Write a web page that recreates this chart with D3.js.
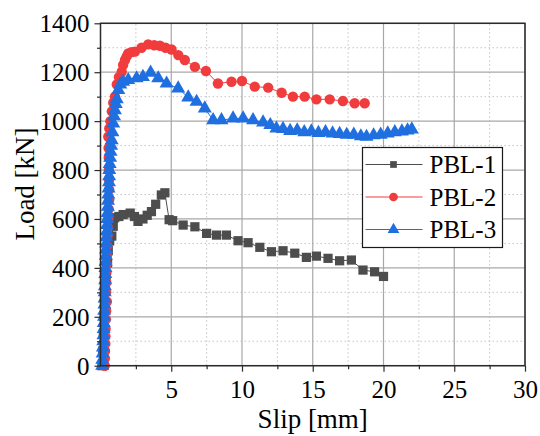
<!DOCTYPE html>
<html>
<head>
<meta charset="utf-8">
<script src="https://cdn.jsdelivr.net/npm/d3@7"></script>
<style>
  body { margin: 0; background: #fff; }
  svg { display: block; }
  svg text { font-family: "Liberation Serif", "Times New Roman", serif; }
</style>
</head>
<body>
<svg id="chart" width="540" height="436"></svg>
<script>
// Slip [mm], Load [kN]
const pbl1 = [[0.1,0],[0.15,60],[0.2,130],[0.25,200],[0.3,260],[0.35,320],[0.4,370],[0.5,420],[0.55,470],[0.65,510],[0.8,530],[0.9,570],[1.0,605],[1.3,610],[1.6,618],[2.1,624],[2.4,610],[2.65,590],[3.0,600],[3.3,615],[3.6,630],[3.9,660],[4.3,698],[4.55,707],[4.85,597],[5.1,593],[5.84,575],[6.67,568],[7.5,541],[8.2,534],[8.9,534],[9.72,511],[10.43,503],[11.26,484],[12.08,466],[12.9,470],[13.73,460],[14.55,443],[15.26,448],[16.08,439],[16.9,429],[17.73,432],[18.55,391],[19.37,384],[20.0,365]]
const pbl2 = [[0.3,0],[0.31,30],[0.32,60],[0.34,90],[0.35,120],[0.36,150],[0.38,190],[0.4,225],[0.45,262],[0.4,300],[0.41,340],[0.42,380],[0.44,415],[0.45,450],[0.48,490],[0.5,530],[0.52,565],[0.55,600],[0.58,640],[0.62,680],[0.61,720],[0.6,760],[0.59,800],[0.58,850],[0.57,890],[0.55,936],[0.62,970],[0.7,1000],[0.8,1040],[0.9,1075],[1.02,1100],[1.15,1150],[1.3,1180],[1.5,1202],[1.6,1230],[1.73,1250],[1.85,1265],[1.96,1277],[2.2,1282],[2.43,1284],[2.9,1300],[3.37,1314],[3.8,1310],[4.2,1308],[4.6,1300],[5.02,1293],[5.5,1270],[5.96,1250],[6.67,1222],[7.45,1205],[8.3,1154],[9.26,1161],[10.0,1164],[10.9,1141],[11.85,1137],[12.8,1116],[13.6,1100],[14.43,1100],[15.26,1089],[16.2,1089],[17.13,1082],[17.96,1073],[18.67,1073]]
const pbl3 = [[0.12,0],[0.13,25],[0.15,50],[0.17,75],[0.2,100],[0.21,125],[0.22,150],[0.23,175],[0.25,200],[0.26,225],[0.28,250],[0.29,275],[0.3,300],[0.31,325],[0.33,350],[0.34,375],[0.35,400],[0.36,425],[0.38,450],[0.39,475],[0.4,500],[0.42,525],[0.45,550],[0.46,575],[0.48,600],[0.5,625],[0.52,650],[0.53,675],[0.55,700],[0.57,725],[0.6,750],[0.61,775],[0.62,800],[0.65,825],[0.68,850],[0.71,875],[0.75,900],[0.79,922],[0.84,955],[0.9,990],[0.96,1020],[1.02,1045],[1.08,1070],[1.15,1090],[1.26,1127],[1.4,1150],[1.6,1161],[1.96,1168],[2.55,1175],[3.0,1181],[3.54,1198],[4.08,1175],[4.67,1154],[5.49,1134],[6.2,1097],[6.79,1079],[7.37,1052],[7.96,1004],[8.55,1004],[9.37,1011],[10.08,1011],[10.78,1004],[11.49,995],[12.0,984],[12.43,970],[12.9,968],[13.4,960],[13.9,962],[14.4,955],[14.9,958],[15.4,952],[15.9,955],[16.4,950],[16.9,948],[17.4,944],[17.9,945],[18.4,938],[18.8,936],[19.3,942],[19.8,945],[20.3,950],[20.8,955],[21.3,958],[21.7,962],[22.0,966]]

const seriesNames = ['PBL-1', 'PBL-2', 'PBL-3']
const xTicks = [5, 10, 15, 20, 25, 30]
const yTicks = [0, 200, 400, 600, 800, 1000, 1200, 1400]

const POLICE = "'Liberation Serif', 'Times New Roman', serif"
const COULEURS = ['#4d4d4d', '#f03c3c', '#1f6fe0']
const SYMBOLES = [d3.symbolSquare, d3.symbolCircle, d3.symbolTriangle]
const TAILLES = [85, 85, 85]

const margin = { left: 100.5, right: 15, top: 23.3, bottom: 70.3 }
const width = 540, height = 436
const svg = d3.select('#chart')

const x = d3.scaleLinear().domain([0, 30]).range([margin.left, width - margin.right])
const y = d3.scaleLinear().domain([0, 1400]).range([height - margin.bottom, margin.top])

//Grille mineure (pointillés)
const gGrid = svg.append('g')
d3.range(2.5, 30, 5).forEach(v => {
  gGrid.append('line').attr('x1', x(v)).attr('x2', x(v)).attr('y1', y(0)).attr('y2', y(1400))
    .attr('stroke', '#c4c4c4').attr('stroke-dasharray', '1.5,2.5')
})
d3.range(100, 1400, 200).forEach(v => {
  gGrid.append('line').attr('x1', x(0)).attr('x2', x(30)).attr('y1', y(v)).attr('y2', y(v))
    .attr('stroke', '#c4c4c4').attr('stroke-dasharray', '1.5,2.5')
})
//Grille majeure
xTicks.forEach(v => {
  gGrid.append('line').attr('x1', x(v)).attr('x2', x(v)).attr('y1', y(0)).attr('y2', y(1400))
    .attr('stroke', '#a8a8a8').attr('stroke-width', 1.2)
})
yTicks.forEach(v => {
  gGrid.append('line').attr('x1', x(0)).attr('x2', x(30)).attr('y1', y(v)).attr('y2', y(v))
    .attr('stroke', '#a8a8a8').attr('stroke-width', 1.2)
})

//Courbes
const ligne = d3.line().x(d => x(d[0])).y(d => y(d[1]))
const donnees = [pbl1, pbl2, pbl3]
;[0, 1, 2].forEach(i => {
  const g = svg.append('g').attr('class', 'serie' + i)
  g.append('path').datum(donnees[i]).attr('d', ligne).attr('fill', 'none')
    .attr('stroke', COULEURS[i]).attr('stroke-width', 1)
  g.selectAll('path.marker').data(donnees[i]).enter().append('path').attr('class', 'marker')
    .attr('d', d3.symbol().type(SYMBOLES[i]).size(TAILLES[i]))
    .attr('transform', d => 'translate(' + x(d[0]) + ',' + y(d[1]) + ')')
    .attr('fill', COULEURS[i])
})

//Cadre
svg.append('rect').attr('x', x(0)).attr('y', y(1400)).attr('width', x(30) - x(0)).attr('height', y(0) - y(1400))
  .attr('fill', 'none').attr('stroke', '#2b2b2b').attr('stroke-width', 1.5)

//Axes
const axeX = d3.axisBottom(x).tickValues(d3.range(2.5, 31, 2.5)).tickSize(6).tickFormat(d => xTicks.includes(d) ? d : '')
const gx = svg.append('g').attr('transform', 'translate(0,' + y(0) + ')').call(axeX)
gx.select('.domain').remove()
gx.selectAll('.tick line').attr('stroke', '#2b2b2b').attr('stroke-width', 1.2)
  .attr('y2', d => xTicks.includes(d) ? 6 : 3.5)
gx.selectAll('.tick text').attr('font-family', POLICE).attr('font-size', 25).attr('fill', '#000').attr('dy', '0.95em')

const axeY = d3.axisLeft(y).tickValues(d3.range(0, 1401, 100)).tickSize(6).tickFormat(d => yTicks.includes(d) ? d : '')
const gy = svg.append('g').attr('transform', 'translate(' + x(0) + ',0)').call(axeY)
gy.select('.domain').remove()
gy.selectAll('.tick line').attr('stroke', '#2b2b2b').attr('stroke-width', 1.2)
  .attr('x2', d => yTicks.includes(d) ? -6 : -3.5)
gy.selectAll('.tick text').attr('font-family', POLICE).attr('font-size', 25).attr('fill', '#000').attr('x', -11).attr('dy', '0.34em')

//Titres des axes
svg.append('text').text('Slip [mm]').attr('x', (x(0) + x(30)) / 2).attr('y', 428)
  .attr('text-anchor', 'middle').attr('font-family', POLICE).attr('font-size', 27)
svg.append('text').text('Load [kN]').attr('transform', 'translate(34,' + 184 + ') rotate(-90)')
  .attr('text-anchor', 'middle').attr('font-family', POLICE).attr('font-size', 27)

//Légende
const gLeg = svg.append('g').attr('transform', 'translate(362.5,147.5)')
gLeg.append('rect').attr('width', 140).attr('height', 100).attr('fill', '#fff').attr('stroke', '#1a1a1a').attr('stroke-width', 1.2)
seriesNames.forEach((nom, i) => {
  const yy = 17 + i * 32.5
  gLeg.append('line').attr('x1', 3).attr('x2', 60).attr('y1', yy).attr('y2', yy).attr('stroke', COULEURS[i]).attr('stroke-width', 1)
  gLeg.append('path').attr('d', d3.symbol().type(SYMBOLES[i]).size(i == 0 ? 45 : 60))
    .attr('transform', 'translate(31,' + yy + ')').attr('fill', COULEURS[i])
  gLeg.append('text').text(nom).attr('x', 67).attr('y', yy).attr('dy', '0.35em')
    .attr('font-family', POLICE).attr('font-size', 25).attr('fill', '#000')
})
</script>
</body>
</html>
